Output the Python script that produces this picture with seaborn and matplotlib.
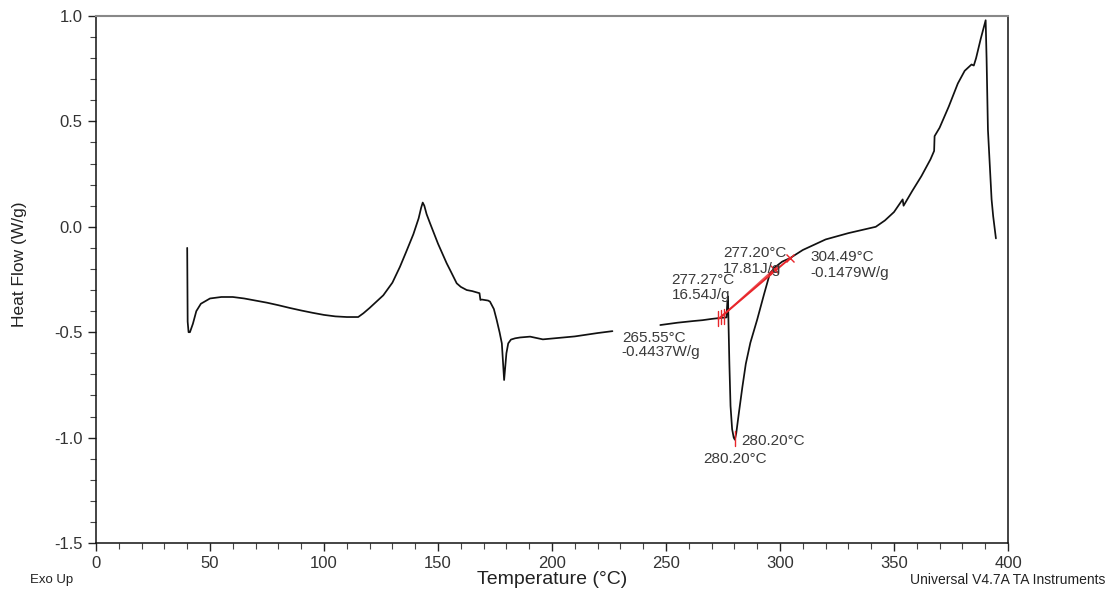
import numpy as np
import pandas as pd
import matplotlib
matplotlib.use("Agg")
import matplotlib.pyplot as plt
import seaborn as sns
from matplotlib.ticker import MultipleLocator

# ---- data ----
temp_a = [40.0, 40.2, 40.6, 41.2, 42.5, 44, 46, 50, 55, 60, 65, 70, 75, 80, 85, 90, 95, 100,
          105, 110, 115, 117.3, 120, 123, 126, 130, 133.3, 136, 139.2, 141.5, 142.6, 143.3, 144.0,
          145.0, 146.5, 150, 153.8, 155.3, 158.2, 160, 162.6, 165, 168.2, 168.6, 169.2, 172.0, 172.8,
          174.5, 175.7, 177, 178, 179, 180, 180.8, 182, 183.8, 186, 190.4, 196, 200, 205, 210,
          215, 220, 226.5]
flow_a = [-0.10, -0.45, -0.50, -0.50, -0.46, -0.40, -0.365, -0.34, -0.333, -0.333, -0.34, -0.35,
          -0.36, -0.372, -0.385, -0.397, -0.408, -0.418, -0.425, -0.428, -0.428, -0.41, -0.385,
          -0.355, -0.325, -0.265, -0.19, -0.12, -0.035, 0.04, 0.09, 0.115, 0.10, 0.06, 0.017,
          -0.08, -0.173, -0.205, -0.268, -0.285, -0.30, -0.305, -0.315, -0.347, -0.345, -0.35,
          -0.355, -0.39, -0.44, -0.50, -0.553, -0.727, -0.60, -0.553, -0.535, -0.529, -0.525,
          -0.521, -0.534, -0.53, -0.525, -0.52, -0.512, -0.504, -0.495]

temp_b = [247.5, 255, 262, 266, 270, 274, 276.5, 276.9, 277.2, 277.4, 277.8, 278.3, 279.0,
          279.7, 280.2, 280.8, 282, 283.5, 285, 287, 290, 293, 295.6, 298, 301, 304.5, 310,
          315, 320, 325, 330, 336, 342, 346, 350, 353.8, 354.2, 358, 362, 366, 367.6, 367.8,
          370, 374, 378, 381, 384, 385, 386, 388, 390.2, 390.6, 391.2, 392.8, 393.5, 394.7]
flow_b = [-0.466, -0.455, -0.447, -0.443, -0.437, -0.432, -0.43, -0.36, -0.33, -0.45, -0.65,
          -0.85, -0.96, -1.0, -1.01, -0.98, -0.88, -0.76, -0.65, -0.55, -0.44, -0.32, -0.22,
          -0.19, -0.165, -0.148, -0.11, -0.085, -0.06, -0.045, -0.03, -0.015, 0.0, 0.03, 0.07,
          0.13, 0.10, 0.17, 0.24, 0.32, 0.36, 0.43, 0.47, 0.57, 0.68, 0.74, 0.77, 0.765, 0.80,
          0.89, 0.98, 0.80, 0.46, 0.13, 0.05, -0.055]

# integration baselines (red)
base1_t = [273.0, 304.5]
base1_f = [-0.437, -0.148]
base2_t = [274.5, 297.5]
base2_f = [-0.425, -0.200]
tick_t = [272.8, 274.2, 275.4]
tick_f = [-0.434, -0.428, -0.426]
cross_t = [297.5, 304.5]
cross_f = [-0.200, -0.148]
peak_t, peak_f = 280.2, -1.01

# annotation texts: (x, y, text)
labels = [
    (275.0, -0.125, "277.20°C"),
    (275.0, -0.200, "17.81J/g"),
    (252.5, -0.252, "277.27°C"),
    (252.5, -0.323, "16.54J/g"),
    (313.2, -0.143, "304.49°C"),
    (313.2, -0.219, "-0.1479W/g"),
    (230.6, -0.527, "265.55°C"),
    (230.6, -0.594, "-0.4437W/g"),
    (283.2, -1.015, "280.20°C"),
    (266.2, -1.100, "280.20°C"),
]

sns.set_theme(style="ticks")
plt.rcParams["font.family"] = ["Liberation Sans", "DejaVu Sans"]

fig = plt.figure(figsize=(11.1, 5.95), dpi=100)
ax = fig.add_axes([96 / 1110, 1 - 543 / 595, (1008 - 96) / 1110, (543 - 16) / 595])

df_a = pd.DataFrame({"T": temp_a, "HF": flow_a})
df_b = pd.DataFrame({"T": temp_b, "HF": flow_b})
sns.lineplot(data=df_a, x="T", y="HF", sort=False, estimator=None, color="#111111", lw=1.25, ax=ax)
sns.lineplot(data=df_b, x="T", y="HF", sort=False, estimator=None, color="#111111", lw=1.25, ax=ax)

red = "#e8262b"
ax.plot(base1_t, base1_f, color=red, lw=1.4)
ax.plot(base2_t, base2_f, color=red, lw=1.2, alpha=0.8)
for t, f in zip(tick_t, tick_f):
    ax.plot([t, t], [f - 0.035, f + 0.035], color=red, lw=1.0)
ax.plot(cross_t, cross_f, ls="none", marker="x", ms=6, mew=1.0, color=red)
ax.plot([peak_t, peak_t], [peak_f - 0.03, peak_f + 0.04], color=red, lw=1.0)

for x, y, s in labels:
    ax.text(x, y, s, fontsize=11, color="#3a3a3a", ha="left", va="center")

ax.set_xlim(0, 400)
ax.set_ylim(-1.5, 1.0)
ax.xaxis.set_major_locator(MultipleLocator(50))
ax.xaxis.set_minor_locator(MultipleLocator(10))
ax.yaxis.set_major_locator(MultipleLocator(0.5))
ax.yaxis.set_minor_locator(MultipleLocator(0.1))
ax.yaxis.set_major_formatter(matplotlib.ticker.FormatStrFormatter("%.1f"))
ax.tick_params(which="major", length=6, width=1, direction="out", labelsize=12,
               labelcolor="#333333", color="#222222")
ax.tick_params(which="minor", length=4, width=0.8, direction="out", color="#444444")

for side in ["left", "bottom", "right"]:
    ax.spines[side].set_color("#111111")
    ax.spines[side].set_linewidth(1.1)
ax.spines["top"].set_color("#888888")
ax.spines["top"].set_linewidth(1.5)
ax.spines["top"].set_visible(True)
ax.spines["right"].set_visible(True)

ax.set_xlabel("")
ax.set_ylabel("")
fig.text(552 / 1110, 1 - 580 / 595, "Temperature (°C)", fontsize=14, color="#222222",
         ha="center", va="center")
fig.text(20 / 1110, 1 - 264 / 595, "Heat Flow (W/g)", fontsize=12.5, color="#222222",
         ha="center", va="center", rotation=90)
fig.text(30 / 1110, 1 - 580 / 595, "Exo Up", fontsize=9.5, color="#222222",
         ha="left", va="center")
fig.text(1105 / 1110, 1 - 580 / 595, "Universal V4.7A TA Instruments", fontsize=10,
         color="#222222", ha="right", va="center")

fig.savefig("out.png", dpi=100, facecolor="white")
